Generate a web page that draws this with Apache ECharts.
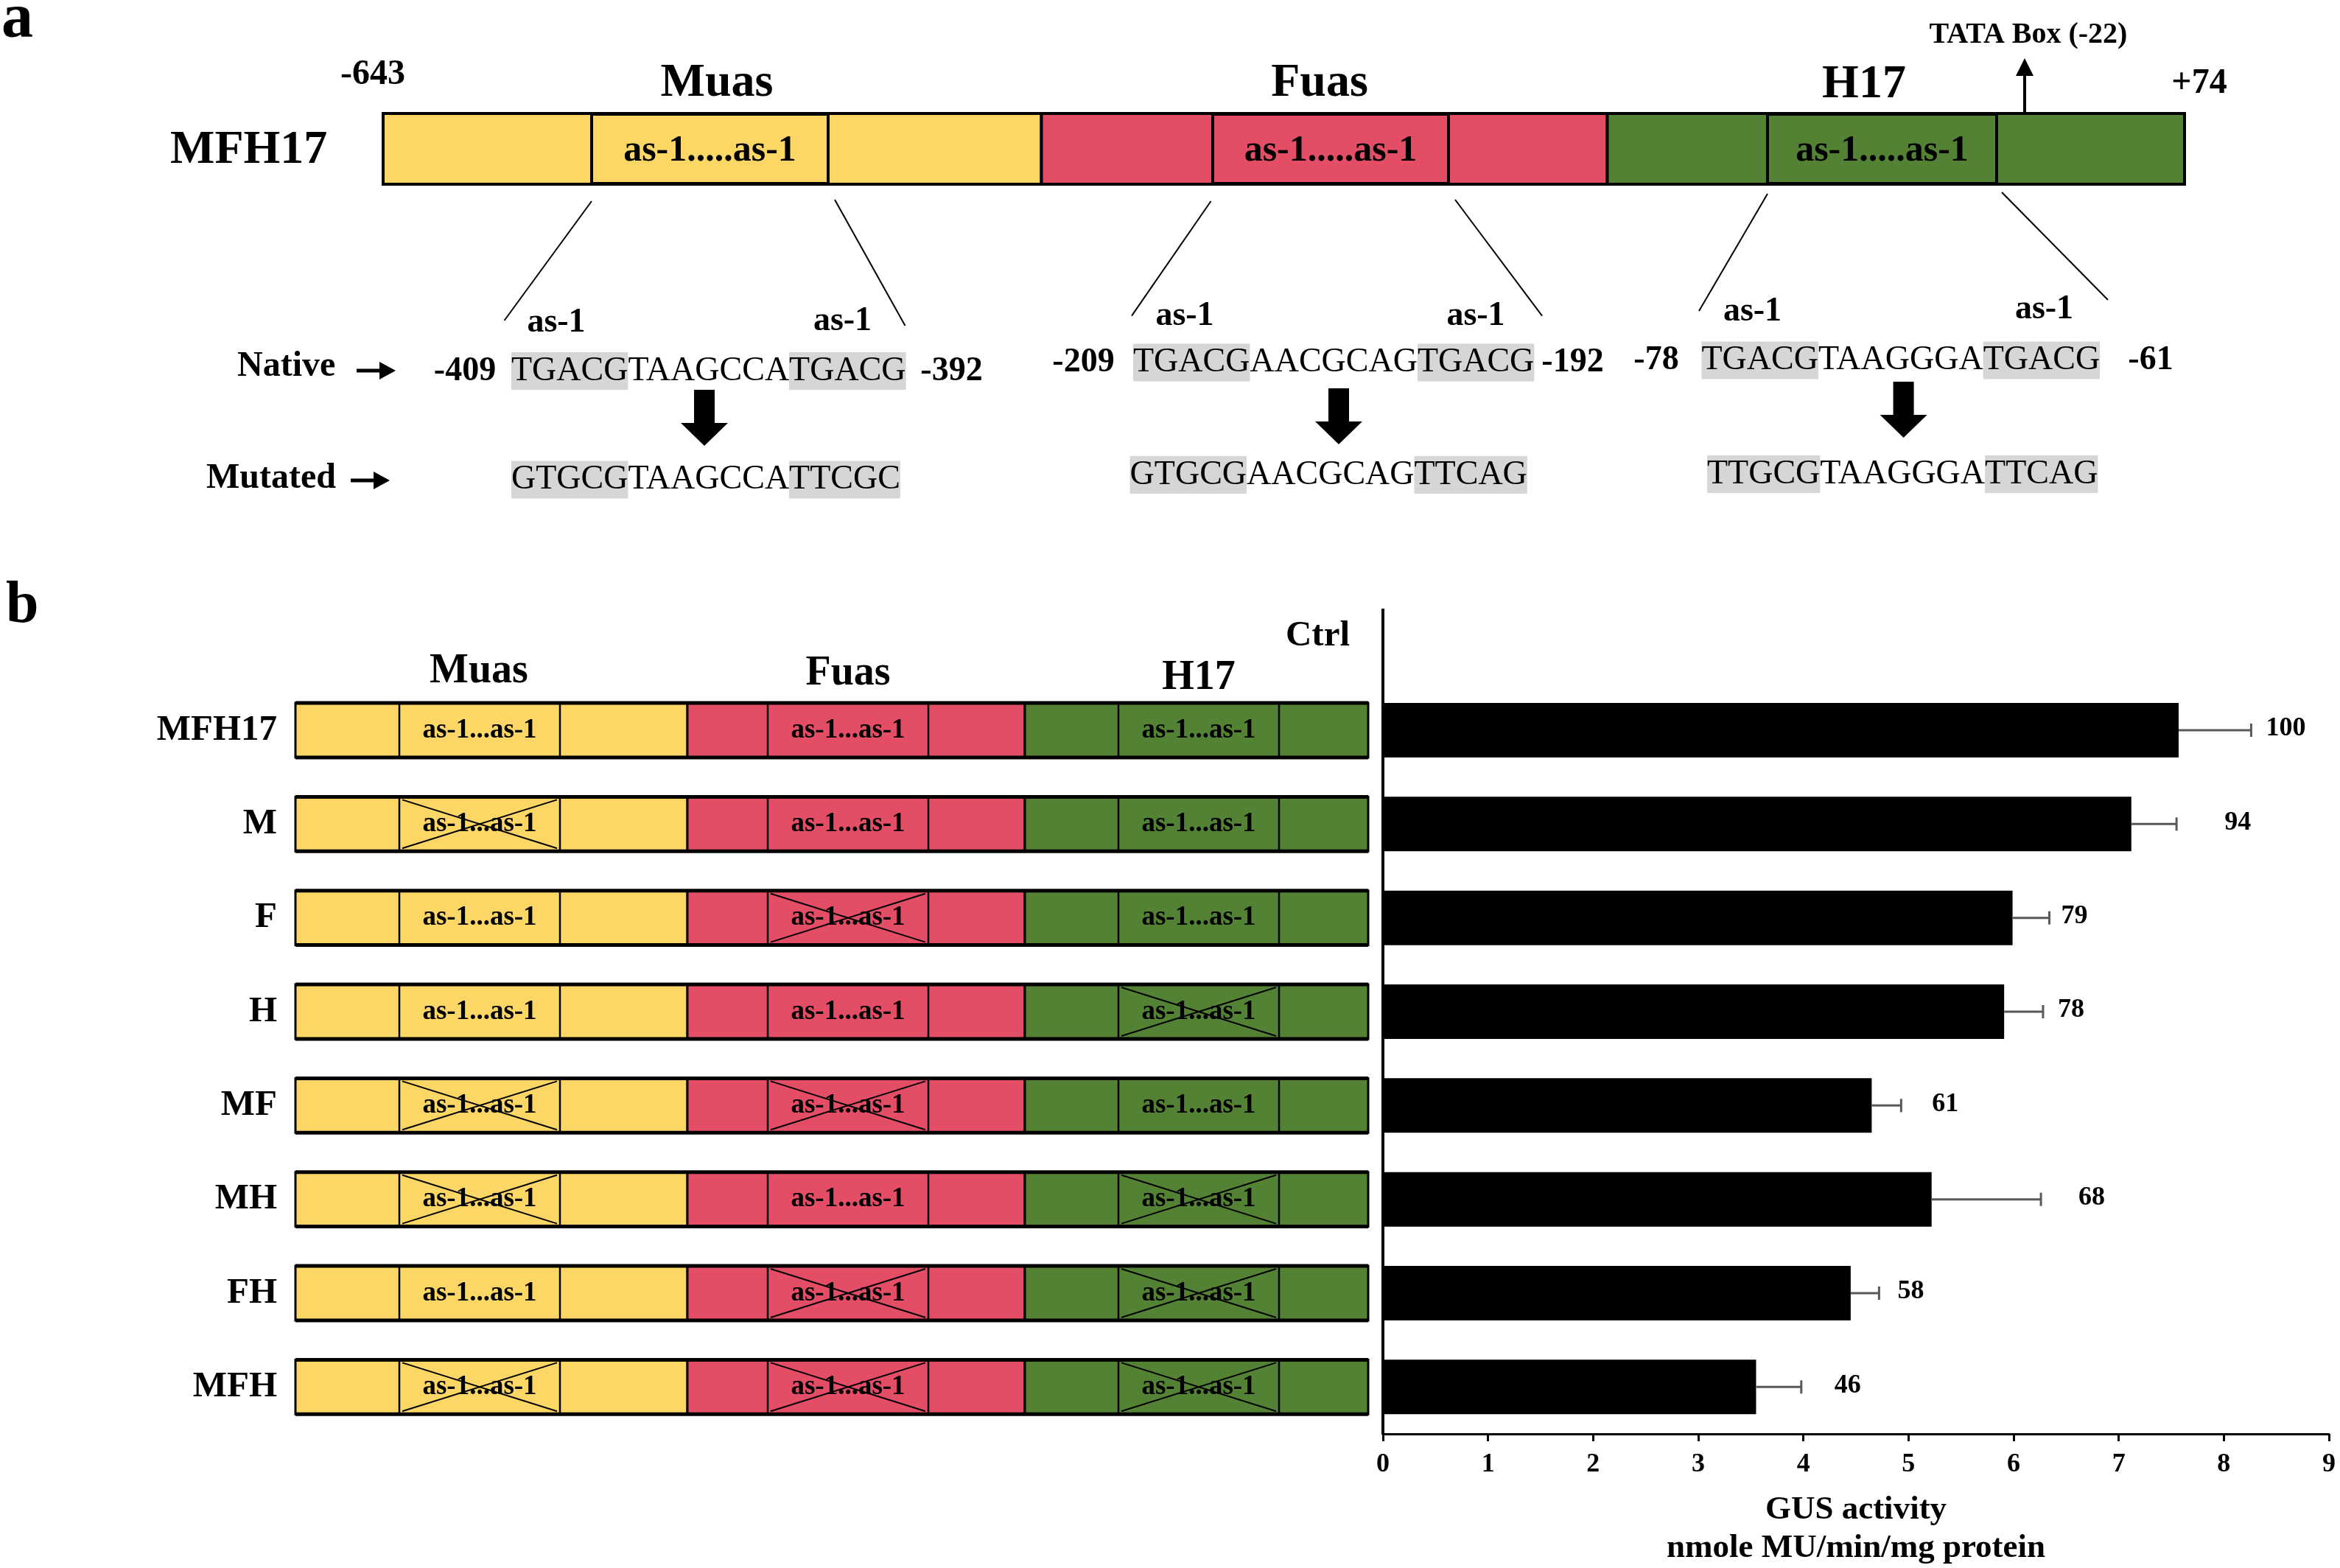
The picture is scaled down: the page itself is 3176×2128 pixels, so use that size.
<!DOCTYPE html>
<html>
<head>
<meta charset="utf-8">
<script src="https://cdn.jsdelivr.net/npm/echarts@6/dist/echarts.min.js"></script>
<style>
html,body{margin:0;padding:0;background:#ffffff;}
#chart{width:3176px;height:2128px;}
</style>
</head>
<body>
<div id="chart"></div>
<script>
// ---------------- DATA ----------------
const categories = ['Ctrl', 'MFH17', 'M', 'F', 'H', 'MF', 'MH', 'FH', 'MFH'];
const gusActivity = ['-', 7.57, 7.12, 5.99, 5.91, 4.65, 5.22, 4.45, 3.55];
const gusError = [0, 0.69, 0.43, 0.35, 0.37, 0.28, 1.04, 0.27, 0.43];
const relativeActivity = [null, 100, 94, 79, 78, 61, 68, 58, 46];
// 1 = as-1 sites mutated in that element
const mutMuas = [null, 0, 1, 0, 0, 1, 1, 0, 1];
const mutFuas = [null, 0, 0, 1, 0, 1, 0, 1, 1];
const mutH17 = [null, 0, 0, 0, 1, 0, 1, 1, 1];
const xTickValues = [0, 1, 2, 3, 4, 5, 6, 7, 8, 9];
const elementNames = ['Muas', 'Fuas', 'H17'];
// schematic element extents (construct units)
const elementStart = [0, 532, 990];
const elementEnd = [532, 990, 1456];
const siteStart = [141, 641, 1117];
const siteEnd = [359, 859, 1335];
const nativeSeqs = [['TGACG', 'TAAGCCA', 'TGACG'], ['TGACG', 'AACGCAG', 'TGACG'], ['TGACG', 'TAAGGGA', 'TGACG']];
const mutatedSeqs = [['GTGCG', 'TAAGCCA', 'TTCGC'], ['GTGCG', 'AACGCAG', 'TTCAG'], ['TTGCG', 'TAAGGGA', 'TTCAG']];
const seqBounds = [['-409', '-392'], ['-209', '-192'], ['-78', '-61']];

// ---------------- STYLE ----------------
const FF = '"Liberation Serif", "Times New Roman", serif';
const elementColors = ['#FDD766', '#E34D66', '#548235'];
const labelGap = [0, 20, 65, 16, 20, 42, 51, 25, 45];

function T(text, x, baseline, size, align, weight) {
  const a = align || 'center';
  return {
    type: 'text', silent: true,
    style: {
      text: text, x: x, y: baseline - 0.32 * size,
      font: (weight || 'bold') + ' ' + size + 'px ' + FF,
      fill: '#000', align: a, textAlign: a, verticalAlign: 'middle', textVerticalAlign: 'middle'
    }
  };
}
function L(x1, y1, x2, y2, w) {
  return { type: 'line', silent: true, shape: { x1: x1, y1: y1, x2: x2, y2: y2 }, style: { stroke: '#000', lineWidth: w || 2 } };
}
function R(x, y, w, h, fill, lw) {
  return { type: 'rect', silent: true, shape: { x: x, y: y, width: w, height: h }, style: { fill: fill, stroke: '#000', lineWidth: lw } };
}
function smallArrow(x0, x1, y) {
  return [
    L(x0, y, x1 - 16, y, 5),
    { type: 'polygon', silent: true, shape: { points: [[x1 - 22, y - 12], [x1, y], [x1 - 22, y + 12]] }, style: { fill: '#000' } }
  ];
}
function blockArrow(c, top, hs, tip) {
  return { type: 'polygon', silent: true, shape: { points: [[c - 14, top], [c + 14, top], [c + 14, hs], [c + 32, hs], [c, tip], [c - 32, hs], [c - 14, hs]] }, style: { fill: '#000' } };
}
function seqText(parts, x, cy) {
  const base = { fontFamily: FF, fontSize: 46, fontWeight: 'normal', color: '#000', lineHeight: 51, height: 51 };
  return {
    type: 'text', silent: true,
    style: {
      text: '{h|' + parts[0] + '}{n|' + parts[1] + '}{h|' + parts[2] + '}',
      x: x, y: cy, align: 'left', textAlign: 'left', verticalAlign: 'middle', textVerticalAlign: 'middle',
      rich: {
        h: Object.assign({ backgroundColor: '#D6D6D6' }, base),
        n: Object.assign({}, base)
      }
    }
  };
}

// ---------------- PANEL a (schematic) ----------------
const g = [];
g.push(T('a', 2, 55, 86, 'left'));
g.push(T('-643', 506, 117, 48));
g.push(T('+74', 2985, 129, 48));
g.push(T('MFH17', 231, 225, 64, 'left'));
g.push(T(elementNames[0], 973, 134, 64));
g.push(T(elementNames[1], 1791, 134, 64));
g.push(T(elementNames[2], 2530, 136, 64));
g.push(T('TATA Box (-22)', 2753, 60, 40));
const aSeg = [[520, 1413.5], [1413.5, 2181.5], [2181.5, 2965]];
const aSite = [[803, 1124], [1646, 1966], [2399, 2710]];
for (let s = 0; s < 3; s++) {
  g.push(R(aSeg[s][0], 154, aSeg[s][1] - aSeg[s][0], 96, elementColors[s], 4));
}
for (let s = 0; s < 3; s++) {
  g.push(R(aSite[s][0], 155, aSite[s][1] - aSite[s][0], 94, elementColors[s], 4));
  g.push(T('as-1.....as-1', (aSite[s][0] + aSite[s][1]) / 2, 221, 50));
}
// TATA arrow
g.push(L(2748, 152, 2748, 98, 4));
g.push({ type: 'polygon', silent: true, shape: { points: [[2736, 103], [2760, 103], [2748, 79]] }, style: { fill: '#000' } });
// zoom lines
g.push(L(803, 273, 684.5, 435, 2));
g.push(L(1133, 271, 1228.5, 442, 2));
g.push(L(1643.5, 273, 1536, 428.6, 2));
g.push(L(1975, 271, 2093, 428.6, 2));
g.push(L(2399, 263, 2306, 422, 2));
g.push(L(2717, 261, 2861, 407, 2));
// as-1 labels
[[755, 453], [1143.5, 451], [1608, 444], [2003, 444], [2378.5, 437.5], [2774.5, 435]].forEach(p => g.push(T('as-1', p[0], p[1], 46)));
// Native / Mutated rows
g.push(T('Native', 322, 513, 48, 'left'));
smallArrow(484, 537, 503).forEach(e => g.push(e));
g.push(T('Mutated', 280, 665, 48, 'left'));
smallArrow(476, 529, 652).forEach(e => g.push(e));
const nativePos = [[694, 503.5, 631, 1291.5], [1538, 492, 1470.5, 2134.5], [2309.5, 489, 2248, 2919]];
const mutPos = [[694, 651], [1533.6, 644.6], [2317, 643.5]];
for (let s = 0; s < 3; s++) {
  const p = nativePos[s];
  g.push(seqText(nativeSeqs[s], p[0], p[1]));
  g.push(T(seqBounds[s][0], p[2], p[1] + 15, 46));
  g.push(T(seqBounds[s][1], p[3], p[1] + 15, 46));
  g.push(seqText(mutatedSeqs[s], mutPos[s][0], mutPos[s][1]));
}
g.push(blockArrow(956, 529, 574, 605));
g.push(blockArrow(1817, 527, 572, 603));
g.push(blockArrow(2583.6, 518, 563, 594));

// ---------------- PANEL b headers ----------------
g.push(T('b', 8, 849, 80, 'left'));
g.push(T(elementNames[0], 650, 929.5, 56));
g.push(T(elementNames[1], 1151, 932, 56));
g.push(T(elementNames[2], 1627, 938, 56));
// value-axis baseline (starts slightly below the plot top, as in the original)
g.push(L(1877, 826, 1877, 1947, 4));

// ---------------- series data ----------------
const errData = [];
const constructData = [];
for (let i = 0; i < categories.length; i++) {
  if (gusActivity[i] === '-') continue;
  errData.push([gusActivity[i], i, gusError[i], relativeActivity[i]]);
  constructData.push([0, i, mutMuas[i], mutFuas[i], mutH17[i]]);
}

function renderError(params, api) {
  const val = api.value(0), idx = api.value(1), err = api.value(2), pct = api.value(3);
  const p0 = api.coord([val, idx]);
  const p1 = api.coord([val + err, idx]);
  return {
    type: 'group',
    children: [
      { type: 'line', shape: { x1: p0[0], y1: p0[1], x2: p1[0], y2: p1[1] }, style: { stroke: '#595959', lineWidth: 3 } },
      { type: 'line', shape: { x1: p1[0], y1: p1[1] - 9, x2: p1[0], y2: p1[1] + 9 }, style: { stroke: '#595959', lineWidth: 3 } },
      { type: 'text', style: { text: String(pct), x: p1[0] + labelGap[idx], y: p1[1] - 2, font: 'bold 36px ' + FF, fill: '#000', align: 'left', verticalAlign: 'middle' } }
    ]
  };
}

function renderConstruct(params, api) {
  const idx = api.value(1);
  const band = api.size([0, 1])[1];
  const h = band * 0.58;
  const cy = api.coord([0, idx])[1];
  const y0 = cy - h / 2;
  const children = [];
  for (let s = 0; s < 3; s++) {
    const x0 = api.coord([elementStart[s], idx])[0];
    const x1 = api.coord([elementEnd[s], idx])[0];
    children.push({ type: 'rect', shape: { x: x0, y: y0, width: x1 - x0, height: h }, style: { fill: elementColors[s], stroke: '#000', lineWidth: 3 } });
  }
  for (let s = 0; s < 3; s++) {
    const sx0 = api.coord([siteStart[s], idx])[0];
    const sx1 = api.coord([siteEnd[s], idx])[0];
    children.push({ type: 'rect', shape: { x: sx0, y: y0, width: sx1 - sx0, height: h }, style: { fill: 'none', stroke: '#000', lineWidth: 2.5 } });
    children.push({ type: 'text', style: { text: 'as-1...as-1', x: (sx0 + sx1) / 2, y: cy, font: 'bold 37px ' + FF, fill: '#000', align: 'center', verticalAlign: 'middle' } });
    if (api.value(2 + s) === 1) {
      children.push({ type: 'line', shape: { x1: sx0 + 4, y1: y0 + 4, x2: sx1 - 4, y2: y0 + h - 4 }, style: { stroke: '#000', lineWidth: 2 } });
      children.push({ type: 'line', shape: { x1: sx1 - 4, y1: y0 + 4, x2: sx0 + 4, y2: y0 + h - 4 }, style: { stroke: '#000', lineWidth: 2 } });
    }
  }
  const xa = api.coord([elementStart[0], idx])[0];
  const xb = api.coord([elementEnd[2], idx])[0];
  children.push({ type: 'line', shape: { x1: xa, y1: y0, x2: xb, y2: y0 }, style: { stroke: '#000', lineWidth: 5 } });
  children.push({ type: 'line', shape: { x1: xa, y1: y0 + h, x2: xb, y2: y0 + h }, style: { stroke: '#000', lineWidth: 5 } });
  return { type: 'group', children: children };
}

const chart = echarts.init(document.getElementById('chart'), null, { renderer: 'canvas' });
chart.setOption({
  backgroundColor: '#ffffff',
  animation: false,
  textStyle: { fontFamily: FF, color: '#000' },
  grid: [
    { left: 1877, top: 800, width: 1284, height: 1146, containLabel: false, outerBoundsMode: 'none' },
    { left: 401, top: 800, width: 1456, height: 1146, containLabel: false, outerBoundsMode: 'none' }
  ],
  xAxis: [
    {
      gridIndex: 0, type: 'value', min: xTickValues[0], max: xTickValues[xTickValues.length - 1], interval: 1,
      axisLine: { show: true, lineStyle: { color: '#000', width: 3 } },
      axisTick: { show: true, inside: false, length: 10, lineStyle: { color: '#000', width: 3 } },
      axisLabel: { color: '#000', fontFamily: FF, fontWeight: 'bold', fontSize: 36, margin: 24 },
      splitLine: { show: false },
      name: 'GUS activity\nnmole MU/min/mg protein', nameLocation: 'middle', nameGap: 77,
      nameTextStyle: { color: '#000', fontFamily: FF, fontWeight: 'bold', fontSize: 45, lineHeight: 52 }
    },
    { gridIndex: 1, type: 'value', min: 0, max: 1456, show: false }
  ],
  yAxis: [
    {
      gridIndex: 0, type: 'category', data: categories, inverse: true,
      axisLine: { show: false },
      axisTick: { show: false },
      axisLabel: { color: '#000', fontFamily: FF, fontWeight: 'bold', fontSize: 49, margin: 45, interval: 0,
        formatter: v => (v === 'Ctrl' ? v : '') },
      splitLine: { show: false }
    },
    {
      gridIndex: 1, type: 'category', data: categories, inverse: true,
      axisLine: { show: false }, axisTick: { show: false },
      axisLabel: { color: '#000', fontFamily: FF, fontWeight: 'bold', fontSize: 49, margin: 25, interval: 0,
        formatter: v => (v === 'Ctrl' ? '' : v) },
      splitLine: { show: false }
    }
  ],
  series: [
    {
      type: 'bar', xAxisIndex: 0, yAxisIndex: 0, data: gusActivity, barWidth: 74,
      itemStyle: { color: '#000000' }, silent: true
    },
    {
      type: 'custom', xAxisIndex: 0, yAxisIndex: 0, data: errData, renderItem: renderError,
      encode: { x: 0, y: 1 }, silent: true, clip: false, z: 3
    },
    {
      type: 'custom', xAxisIndex: 1, yAxisIndex: 1, data: constructData, renderItem: renderConstruct,
      encode: { x: 0, y: 1 }, silent: true, clip: false
    }
  ],
  graphic: { elements: g }
});
</script>
</body>
</html>
